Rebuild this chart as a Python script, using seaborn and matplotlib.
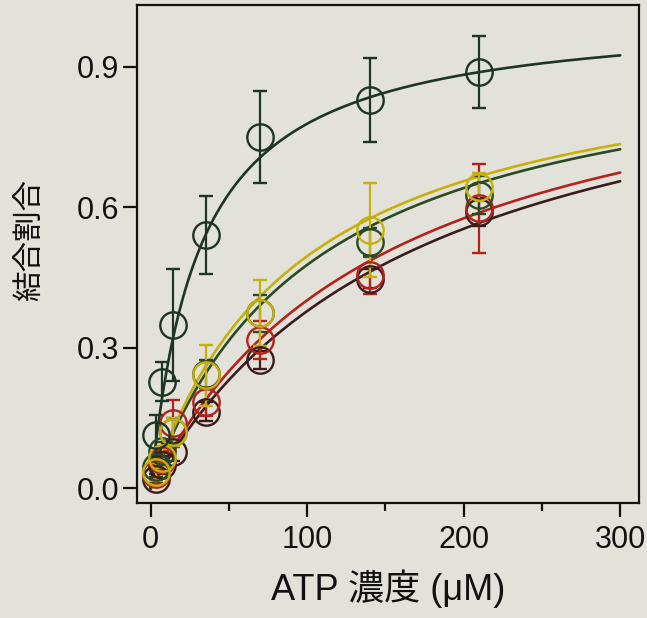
import numpy as np
import pandas as pd
import matplotlib
matplotlib.use("Agg")
import matplotlib.pyplot as plt
import seaborn as sns

# Concentraciones de ATP (uM) de los puntos medidos
conc = [3.5, 7, 14, 35, 70, 140, 210]

# Fracción unida y barras de error por serie
y_top = [0.114, 0.228, 0.349, 0.541, 0.751, 0.829, 0.889]
e_top = [0.042, 0.042, 0.12, 0.083, 0.098, 0.089, 0.077]
y_yel = [0.035, 0.065, 0.12, 0.242, 0.374, 0.552, 0.644]
e_yel = [0.02, 0.02, 0.03, 0.065, 0.07, 0.10, 0.03]
y_grn = [0.045, 0.08, 0.12, 0.245, 0.374, 0.527, 0.626]
e_grn = [0.02, 0.02, 0.03, 0.03, 0.04, 0.03, 0.04]
y_red = [0.03, 0.06, 0.139, 0.185, 0.317, 0.455, 0.598]
e_red = [0.02, 0.02, 0.05, 0.03, 0.04, 0.04, 0.095]
y_drk = [0.021, 0.05, 0.078, 0.164, 0.274, 0.448, 0.59]
e_drk = [0.01, 0.02, 0.02, 0.02, 0.02, 0.02, 0.03]

# Parámetros de las curvas ajustadas (Bmax, Kd) para cada serie
bmax = [1.02, 0.969, 0.976, 1.020, 1.034]
kd = [31.0, 95.4, 104.4, 153.8, 173.0]

colors = ["#1d3526", "#c6b00c", "#2c4a22", "#b3221b", "#3a1c1c"]
ys = [y_top, y_yel, y_grn, y_red, y_drk]
es = [e_top, e_yel, e_grn, e_red, e_drk]

bg = "#e3e2da"
sns.set_style("ticks")
plt.rcParams['font.family'] = ['Liberation Sans', 'Noto Sans CJK JP', 'DejaVu Sans']

fig = plt.figure(figsize=(6.47, 6.18), dpi=100, facecolor=bg)
ax = fig.add_axes([0.2117, 0.1861, 0.7759, 0.8058])
ax.set_facecolor(bg)

# Curvas ajustadas (hipérbola de unión)
xs = np.linspace(0, 300, 301)
for i in [4, 3, 2, 1, 0]:
    curve = pd.DataFrame({"x": xs, "y": bmax[i] * xs / (kd[i] + xs)})
    sns.lineplot(data=curve, x="x", y="y", color=colors[i], lw=1.9, ax=ax)

# Puntos con barras de error
for i in [4, 3, 2, 1, 0]:
    ax.errorbar(conc, ys[i], yerr=es[i], fmt="o", mfc="none", mec=colors[i],
                ecolor=colors[i], ms=19, mew=1.7, elinewidth=1.6, capsize=5,
                capthick=1.6)

ax.set_xlim(-8.8, 312)
ax.set_ylim(-0.031, 1.032)
ax.set_xticks([0, 100, 200, 300])
ax.set_xticks([50, 150, 250], minor=True)
ax.set_yticks([0.0, 0.3, 0.6, 0.9])
ax.set_yticklabels(["0.0", "0.3", "0.6", "0.9"])
ax.tick_params(axis="both", which="major", direction="out", width=1.6,
               labelsize=22, color="#111111", labelcolor="#111111")
ax.tick_params(axis="x", which="major", length=10, pad=6)
ax.tick_params(axis="y", which="major", length=10, pad=3)
ax.tick_params(axis="x", which="minor", direction="out", length=6, width=1.6,
               color="#111111")
for s in ax.spines.values():
    s.set_linewidth(1.6)
    s.set_color("#111111")
    s.set_visible(True)

ax.set_xlabel("ATP 濃度 (μM)", fontsize=26, color="#111111", labelpad=10)
ax.set_ylabel("結合割合", fontsize=22, color="#111111")
ax.yaxis.set_label_coords(-0.181, 0.528)

fig.savefig("out.png", dpi=100, facecolor=bg)
